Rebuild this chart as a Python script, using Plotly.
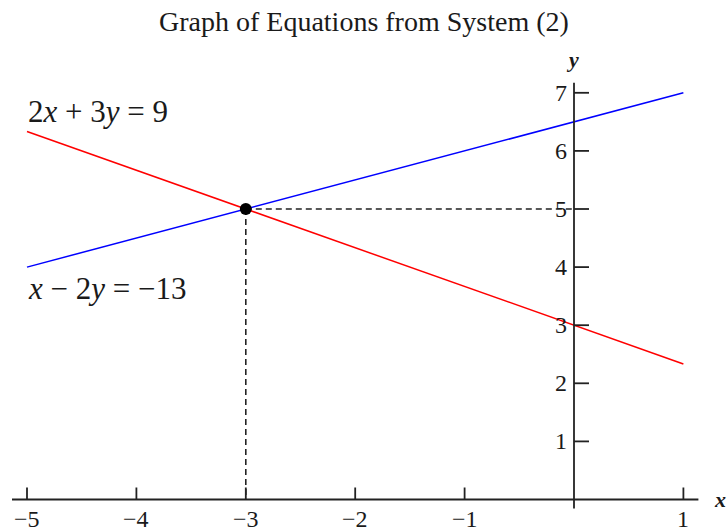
import plotly.graph_objects as go

# Data
x_ends = [-5, 1]
red_y = [(9 - 2 * x) / 3 for x in x_ends]      # 2x + 3y = 9
blue_y = [(x + 13) / 2 for x in x_ends]        # x - 2y = -13
solution = (-3, 5)
x_ticks = [-5, -4, -3, -2, -1, 1]
y_ticks = [1, 2, 3, 4, 5, 6, 7]
title_text = "Graph of Equations from System (2)"
red_label = "2<i>x</i> + 3<i>y</i> = 9"
blue_label = "<i>x</i> − 2<i>y</i> = −13"

W, H = 727, 529
px_x = 109.4   # pixels per x unit
px_y = 58.1    # pixels per y unit
x0_pix, y0_pix = 27, 499.5  # pixel of x=-5 and of y=0
xr = [-5 - x0_pix / px_x, -5 + (W - x0_pix) / px_x]
yr = [-(H - y0_pix) / px_y, y0_pix / px_y]

SERIF = "Liberation Serif, Times New Roman, serif"
INK = "#1a1a1a"

fig = go.Figure()
fig.add_trace(go.Scatter(x=x_ends, y=red_y, mode="lines",
                         line=dict(color="#ff0000", width=1.5), hoverinfo="skip"))
fig.add_trace(go.Scatter(x=x_ends, y=blue_y, mode="lines",
                         line=dict(color="#0000ff", width=1.5), hoverinfo="skip"))
# dashed guides
fig.add_trace(go.Scatter(x=[solution[0], 0], y=[solution[1], solution[1]], mode="lines",
                         line=dict(color="#222", width=1.6, dash="6px,4px"), hoverinfo="skip"))
fig.add_trace(go.Scatter(x=[solution[0], solution[0]], y=[solution[1], 0], mode="lines",
                         line=dict(color="#222", width=1.6, dash="6px,4px"), hoverinfo="skip"))
fig.add_trace(go.Scatter(x=[solution[0]], y=[solution[1]], mode="markers",
                         marker=dict(color="black", size=12), hoverinfo="skip"))

shapes = []
axis_line = dict(color="#222", width=1.8)
# x axis
shapes.append(dict(type="line", xref="x", yref="y", x0=-5 - 15 / px_x, x1=1 + 15 / px_x,
                   y0=0, y1=0, line=axis_line))
# y axis
shapes.append(dict(type="line", xref="x", yref="y", x0=0, x1=0,
                   y0=-9 / px_y, y1=7 + 10 / px_y, line=axis_line))
for xt in x_ticks:
    shapes.append(dict(type="line", xref="x", yref="y", x0=xt, x1=xt,
                       y0=0, y1=12 / px_y, line=axis_line))
for yt in y_ticks:
    shapes.append(dict(type="line", xref="x", yref="y", x0=0, x1=15 / px_x,
                       y0=yt, y1=yt, line=axis_line))

annotations = []
for xt in x_ticks:
    annotations.append(dict(x=xt, y=-19 / px_y, xref="x", yref="y", showarrow=False,
                            text=str(xt).replace("-", "−"), xanchor="center", yanchor="middle",
                            font=dict(family=SERIF, size=24, color=INK)))
for yt in y_ticks:
    annotations.append(dict(x=-13 / px_x, y=yt, xref="x", yref="y", showarrow=False,
                            text=str(yt), xanchor="center", yanchor="middle",
                            font=dict(family=SERIF, size=24, color=INK)))
annotations.append(dict(x=1 + 37 / px_x, y=0, xref="x", yref="y", showarrow=False,
                        text="<b><i>x</i></b>", xanchor="center", yanchor="middle",
                        font=dict(family=SERIF, size=22, color=INK)))
annotations.append(dict(x=-2 / px_x, y=7 + 33 / px_y, xref="x", yref="y", showarrow=False,
                        text="<b><i>y</i></b>", xanchor="center", yanchor="middle",
                        font=dict(family=SERIF, size=22, color=INK)))
annotations.append(dict(x=-5.01, y=red_y[0] + 0.34, xref="x", yref="y", showarrow=False,
                        text=red_label, xanchor="left", yanchor="middle",
                        font=dict(family=SERIF, size=31, color=INK)))
annotations.append(dict(x=-5.01, y=blue_y[0] - 0.36, xref="x", yref="y", showarrow=False,
                        text=blue_label, xanchor="left", yanchor="middle",
                        font=dict(family=SERIF, size=31, color=INK)))
annotations.append(dict(x=0.5, y=1 - 22 / H, xref="paper", yref="paper", showarrow=False,
                        text=title_text, xanchor="center", yanchor="middle",
                        font=dict(family=SERIF, size=28, color=INK)))

fig.update_layout(
    width=W, height=H,
    margin=dict(l=0, r=0, t=0, b=0),
    paper_bgcolor="white", plot_bgcolor="white",
    showlegend=False,
    xaxis=dict(range=xr, visible=False, fixedrange=True),
    yaxis=dict(range=yr, visible=False, fixedrange=True),
    shapes=shapes, annotations=annotations,
)
fig.write_html(
    "out.html",
    config={"displayModeBar": False},
    post_script="document.body.style.margin='0';document.body.style.overflow='hidden';",
)
